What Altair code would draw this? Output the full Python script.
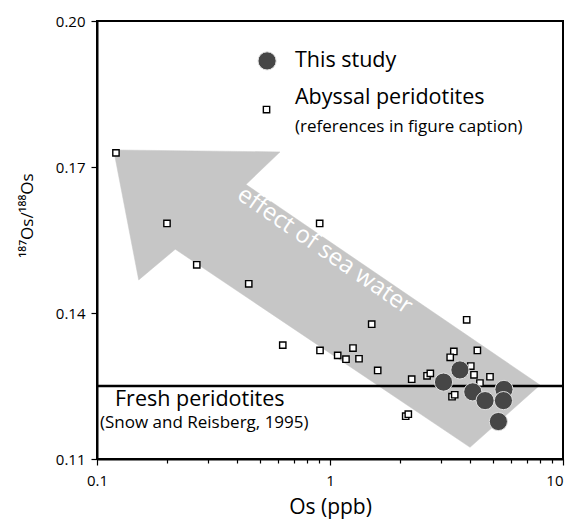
import altair as alt
import pandas as pd

# Abyssal peridotites (squares)
abyssal_os = [0.1206, 0.1997, 0.903, 0.268, 0.448, 0.627, 1.51, 0.906, 1.079, 1.171,
              1.255, 1.332, 1.602, 2.242, 2.113, 2.168, 2.609, 2.695, 3.86, 3.40,
              3.28, 4.29, 4.86, 4.02, 4.15, 4.40, 3.34, 3.43]
abyssal_ratio = [0.1729, 0.1584, 0.1584, 0.1499, 0.1460, 0.1334, 0.1377, 0.1323, 0.1313, 0.1305,
                 0.1328, 0.1306, 0.1282, 0.1264, 0.1188, 0.1192, 0.1271, 0.1276, 0.1386, 0.1321,
                 0.1309, 0.1323, 0.1269, 0.1291, 0.1273, 0.1256, 0.1228, 0.1232]

# This study (circles)
study_os = [3.07, 3.61, 4.10, 4.63, 5.58, 5.55, 5.28]
study_ratio = [0.1258, 0.1283, 0.1238, 0.1220, 0.1243, 0.1220, 0.1177]

# Fresh peridotites reference value
fresh_ratio = 0.125

# Arrow outline ("effect of sea water")
arrow_os = [0.1179, 0.610, 0.436, 7.97, 3.99, 0.2168, 0.151]
arrow_ratio = [0.1735, 0.1731, 0.1664, 0.1252, 0.1124, 0.1531, 0.1468]

x_tick_values = [0.1, 0.2, 0.3, 0.4, 0.5, 0.6, 0.7, 0.8, 0.9,
                 1, 2, 3, 4, 5, 6, 7, 8, 9, 10]
y_tick_values = [0.11, 0.14, 0.17, 0.20]

FONT = "Open Sans"

xs = alt.Scale(type="log", domain=[0.1, 10], nice=False)
ys = alt.Scale(domain=[0.11, 0.20], zero=False, nice=False)

major = "datum.value == 0.1 || datum.value == 1 || datum.value == 10"

x_axis = alt.Axis(
    values=x_tick_values,
    labelExpr="datum.value == 0.1 ? '0.1' : datum.value == 1 ? '1' : datum.value == 10 ? '10' : ''",
    tickSize={"condition": {"test": major, "value": 6}, "value": 4},
    labelAlign={"condition": {"test": "datum.value == 10", "value": "right"}, "value": "center"},
    title="Os (ppb)", titleFontSize=21, titleFont=FONT, titleFontWeight="normal",
    titlePadding=8, labelFontSize=15, labelFont=FONT, labelPadding=8,
    grid=False, domainColor="black", domainWidth=2, tickColor="black", tickWidth=1.2,
    labelColor="black", titleColor="black", labelFlush=False,
)
y_axis = alt.Axis(
    values=y_tick_values, format=".2f",
    title="¹⁸⁷Os/¹⁸⁸Os", titleFontSize=17, titleFont=FONT, titleFontWeight="normal",
    titleX=-70, titleY=194, titleBaseline="middle",
    labelFontSize=15, labelFont=FONT, labelPadding=6, tickSize=6,
    grid=False, domainColor="black", domainWidth=2, tickColor="black", tickWidth=1.2,
    labelColor="black", titleColor="black",
)

arrow_df = pd.DataFrame({"x": arrow_os, "y": arrow_ratio, "o": list(range(len(arrow_os)))})
arrow = alt.Chart(arrow_df).mark_line(
    fill="#c6c6c6", stroke="#c6c6c6", strokeWidth=0.5, interpolate="linear-closed"
).encode(
    x=alt.X("x:Q", scale=xs, axis=x_axis),
    y=alt.Y("y:Q", scale=ys, axis=y_axis),
    order="o:Q",
)

sea_text = alt.Chart(pd.DataFrame({"x": [0.95], "y": [0.1528], "t": ["effect of sea water"]})).mark_text(
    color="white", fontSize=24, font=FONT, angle=34.5, align="center", baseline="middle"
).encode(x=alt.X("x:Q", scale=xs), y=alt.Y("y:Q", scale=ys), text="t:N")

fresh = alt.Chart(pd.DataFrame({"y": [fresh_ratio]})).mark_rule(
    color="black", strokeWidth=2.5
).encode(y=alt.Y("y:Q", scale=ys))

sq_df = pd.DataFrame({"x": abyssal_os, "y": abyssal_ratio})
squares = alt.Chart(sq_df).mark_square(
    size=40, fill="white", stroke="black", strokeWidth=1.4, opacity=1
).encode(x=alt.X("x:Q", scale=xs), y=alt.Y("y:Q", scale=ys))

ci_df = pd.DataFrame({"x": study_os, "y": study_ratio})
circles = alt.Chart(ci_df).mark_circle(
    size=330, fill="#464646", stroke="#e0e0e0", strokeWidth=1, opacity=1
).encode(x=alt.X("x:Q", scale=xs), y=alt.Y("y:Q", scale=ys))

# legend
leg_circle = alt.Chart(pd.DataFrame({"x": [0.537], "y": [0.1918]})).mark_circle(
    size=330, fill="#464646", stroke="#e0e0e0", strokeWidth=1, opacity=1
).encode(x=alt.X("x:Q", scale=xs), y=alt.Y("y:Q", scale=ys))
leg_square = alt.Chart(pd.DataFrame({"x": [0.534], "y": [0.1818]})).mark_square(
    size=40, fill="white", stroke="black", strokeWidth=1.4, opacity=1
).encode(x=alt.X("x:Q", scale=xs), y=alt.Y("y:Q", scale=ys))

big_text = pd.DataFrame({
    "x": [0.7075, 0.7075, 0.1195],
    "y": [0.1918, 0.1842, 0.1221],
    "t": ["This study", "Abyssal peridotites", "Fresh peridotites"],
})
small_text = pd.DataFrame({
    "x": [0.7075, 0.103],
    "y": [0.1782, 0.1174],
    "t": ["(references in figure caption)", "(Snow and Reisberg, 1995)"],
})
labels_big = alt.Chart(big_text).mark_text(
    align="left", baseline="middle", fontSize=21.5, font=FONT, color="black"
).encode(x=alt.X("x:Q", scale=xs), y=alt.Y("y:Q", scale=ys), text="t:N")
labels_small = alt.Chart(small_text).mark_text(
    align="left", baseline="middle", fontSize=17, font=FONT, color="black"
).encode(x=alt.X("x:Q", scale=xs), y=alt.Y("y:Q", scale=ys), text="t:N")

chart = alt.layer(
    arrow, sea_text, fresh, squares, circles, leg_circle, leg_square, labels_big, labels_small
).properties(
    width=466, height=438,
    autosize=alt.AutoSizeParams(type="none"),
    padding={"left": 97, "top": 21, "right": 7, "bottom": 66},
    background="white",
).configure_view(stroke="black", strokeWidth=2)

chart.save("out.html", embed_options={"renderer": "svg", "actions": False})
